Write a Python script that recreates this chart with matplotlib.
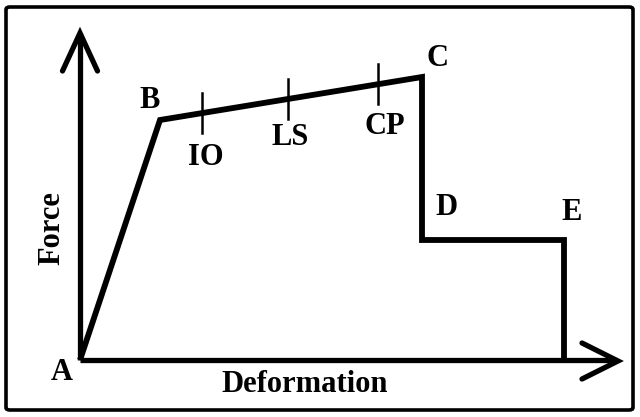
import numpy as np
import matplotlib
matplotlib.use("Agg")
import matplotlib.pyplot as plt
from matplotlib.patches import FancyBboxPatch

# Pushover curve points (A, B, C, D, E, end)
point_labels = ["A", "B", "C", "D", "E"]
deformation = [0, 80, 342, 342, 484, 484]
force = [0, 240, 283, 120, 120, 0]

# Performance levels on the B-C branch
level_names = ["IO", "LS", "CP"]
level_deformation = [122, 208, 298]

FONT = "Liberation Serif"

fig = plt.figure(figsize=(6.4, 4.17), dpi=100)
ax = fig.add_axes([0, 0, 1, 1])
ax.set_xlim(-80, 560)
ax.set_ylim(-57, 360)
ax.axis("off")

# border
border = FancyBboxPatch((6 / 640, 7 / 417), 627 / 640, 403 / 417,
                        boxstyle="round,pad=0,rounding_size=0.006",
                        transform=fig.transFigure, fill=False,
                        edgecolor="black", linewidth=2.6)
fig.patches.append(border)

# axes lines with open arrowheads
ax.plot([0, 0], [0, 327], color="black", lw=3.8, solid_capstyle="butt")
ax.plot([-17.5, 0, 17.5], [289, 327, 289], color="black", lw=3.8,
        solid_capstyle="round", solid_joinstyle="miter")
ax.plot([0, 537], [0, 0], color="black", lw=3.8, solid_capstyle="butt")
ax.plot([502, 538, 502], [17, -1, -19], color="black", lw=3.8,
        solid_capstyle="round", solid_joinstyle="miter")

# curve
ax.plot(deformation, force, color="black", lw=4.2, solid_joinstyle="miter",
        solid_capstyle="butt")

# performance level ticks
for name, xv in zip(level_names, level_deformation):
    yv = np.interp(xv, deformation[1:3], force[1:3])
    ax.plot([xv, xv], [yv - 20, yv + 20], color="black", lw=1.8)

txt = dict(fontfamily=FONT, fontweight="bold", fontsize=22, ha="center", va="center")
ax.text(126, 203, "IO", **txt)
ax.text(210, 223, "LS", **txt)
ax.text(305, 234, "CP", **txt)

label_pos = {"A": (-18, -12), "B": (70, 260), "C": (357, 302),
             "D": (367, 153), "E": (492, 148)}
for lab in point_labels:
    ax.text(*label_pos[lab], lab, **txt)

ax.text(225, -25, "Deformation", **txt)
ax.text(-28, 132, "Force", rotation=90, **txt)

fig.savefig("out.png", dpi=100)
